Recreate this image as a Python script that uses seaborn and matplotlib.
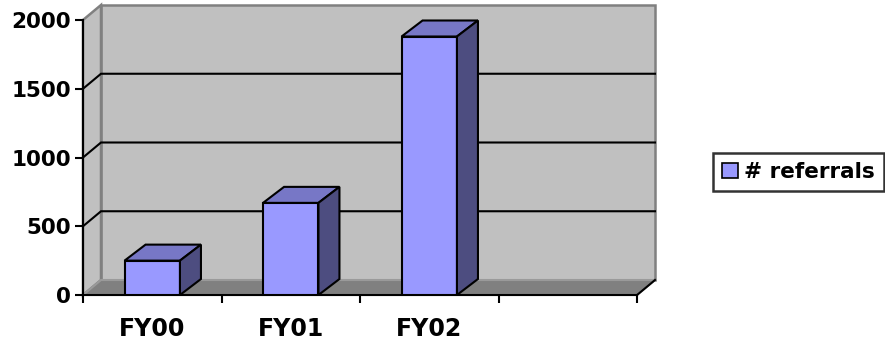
import matplotlib
matplotlib.use("Agg")
import matplotlib.pyplot as plt
import seaborn as sns
import numpy as np
from matplotlib.patches import Polygon, Patch

# Data
categories = ["FY00", "FY01", "FY02"]
referrals = [250, 670, 1880]
y_ticks = [0, 500, 1000, 1500, 2000]
series_name = "# referrals"

# Colours of the 3-D column chart
FRONT = "#9999FF"
TOP = "#7777C6"
SIDE = "#4D4D80"
WALL = "#C0C0C0"
FLOOR = "#808080"
EDGE = "#808080"

DPI = 100
WALL_DEPTH = (18, 15)   # pixel offset of the back wall
BAR_DEPTH = (21, 16)    # pixel offset of the column back faces
LW = 1.5

plt.rcParams["font.family"] = ["DejaVu Sans"]
plt.rcParams["font.weight"] = "bold"

fig = plt.figure(figsize=(8.85, 3.43), dpi=DPI)
fig.patch.set_facecolor("white")
ax = fig.add_axes([83 / 885, 48 / 343, 554 / 885, 275 / 343])

sns.barplot(x=categories, y=referrals, color=FRONT, saturation=1, width=0.4,
            edgecolor="black", linewidth=LW, ax=ax, zorder=3)
bars = list(ax.patches)

n_slots = len(categories) + 1
ax.set_xlim(-0.5, n_slots - 0.5)
ax.set_ylim(y_ticks[0], y_ticks[-1])
ax.set_facecolor("none")
x_lo, x_hi = ax.get_xlim()
y_lo, y_hi = ax.get_ylim()


def shift(x, y, depth):
    """Data point moved back in depth by a pixel offset."""
    px = ax.transData.transform((x, y)) + np.asarray(depth, dtype=float)
    return tuple(ax.transData.inverted().transform(px))


def poly(pts, fc, ec, z, lw=LW):
    ax.add_patch(Polygon(pts, closed=True, facecolor=fc, edgecolor=ec,
                         linewidth=lw, zorder=z, clip_on=False,
                         joinstyle="miter"))


# Back wall, side wall and floor
poly([shift(x_lo, y_lo, WALL_DEPTH), shift(x_hi, y_lo, WALL_DEPTH),
      shift(x_hi, y_hi, WALL_DEPTH), shift(x_lo, y_hi, WALL_DEPTH)],
     WALL, EDGE, 0.2, lw=1.8)
poly([(x_lo, y_lo), (x_lo, y_hi), shift(x_lo, y_hi, WALL_DEPTH),
      shift(x_lo, y_lo, WALL_DEPTH)], WALL, EDGE, 0.3, lw=1.8)
poly([(x_lo, y_lo), (x_hi, y_lo), shift(x_hi, y_lo, WALL_DEPTH),
      shift(x_lo, y_lo, WALL_DEPTH)], FLOOR, "#9A9A9A", 0.4)

# Gridlines across side wall and back wall
for v in y_ticks[1:-1]:
    p0 = (x_lo, v)
    p1 = shift(x_lo, v, WALL_DEPTH)
    p2 = shift(x_hi, v, WALL_DEPTH)
    ax.plot([p0[0], p1[0], p2[0]], [p0[1], p1[1], p2[1]], color="black",
            lw=LW, zorder=0.5, clip_on=False, solid_joinstyle="miter")

# Right edge of the floor
pr = shift(x_hi, y_lo, WALL_DEPTH)
ax.plot([x_hi, pr[0]], [y_lo, pr[1]], color="black", lw=LW, zorder=0.6,
        clip_on=False)

# Column tops and sides
for b in bars:
    x0 = b.get_x()
    x1 = x0 + b.get_width()
    h = b.get_height()
    poly([(x0, h), (x1, h), shift(x1, h, BAR_DEPTH), shift(x0, h, BAR_DEPTH)],
         TOP, "black", 3.1)
    poly([(x1, 0), (x1, h), shift(x1, h, BAR_DEPTH), shift(x1, 0, BAR_DEPTH)],
         SIDE, "black", 3.1)

# Axes
for s in ("top", "right"):
    ax.spines[s].set_visible(False)
for s in ("left", "bottom"):
    ax.spines[s].set_color("black")
    ax.spines[s].set_linewidth(LW)
    ax.spines[s].set_zorder(2)

ax.set_yticks(y_ticks)
ax.set_yticklabels([str(v) for v in y_ticks])
ax.tick_params(axis="y", direction="out", length=5.5, width=LW, pad=3,
               labelsize=15.5, colors="black")
ax.set_xticks(range(len(categories)))
ax.set_xticklabels(categories)
ax.set_xticks(np.arange(x_lo, x_hi + 0.01, 1.0), minor=True)
ax.tick_params(axis="x", which="major", length=0, pad=15.5, labelsize=17)
ax.tick_params(axis="x", which="minor", direction="out", length=5.5,
               width=LW)
for t in ax.get_xticklabels() + ax.get_yticklabels():
    t.set_fontweight("bold")
ax.set_xlabel("")
ax.set_ylabel("")

# Legend
leg = fig.legend(handles=[Patch(facecolor=FRONT, edgecolor="black", lw=1.2)],
                 labels=[series_name], loc="center right",
                 bbox_to_anchor=(884 / 885, 1 - 172 / 343),
                 frameon=True, fancybox=False, edgecolor="black",
                 handlelength=0.75, handleheight=0.75, handletextpad=0.3,
                 borderpad=0.42, borderaxespad=0,
                 prop={"weight": "bold", "size": 15.5})
leg.get_frame().set_linewidth(1.8)

fig.savefig("out.png", dpi=DPI, facecolor="white")
